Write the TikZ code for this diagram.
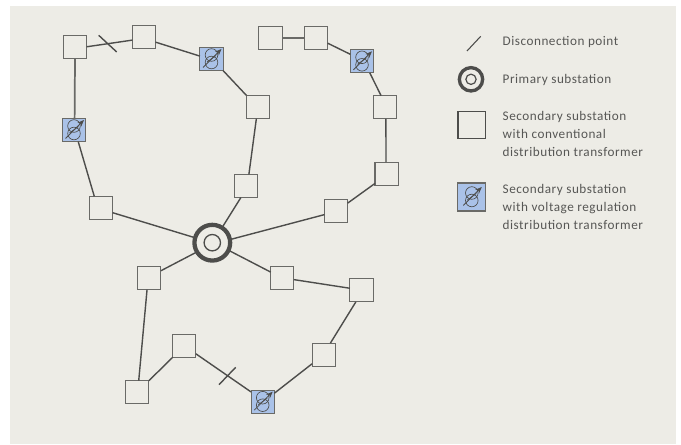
\documentclass[tikz,border=0pt]{standalone}
\usepackage{fontspec}
\usetikzlibrary{arrows.meta}
\setmainfont{Carlito}[LetterSpace=4]
\definecolor{bgc}{HTML}{EDECE6}
\definecolor{linec}{HTML}{4D4D4B}
\definecolor{boxc}{HTML}{6A6A67}
\definecolor{regc}{HTML}{AAC2E8}
\definecolor{textc}{HTML}{575755}
\newcommand\xfmsym[1]{%
  \begin{scope}[shift={(path picture bounding box.center)},scale=#1,draw=linec,line width=0.5pt]
    \draw (0,-4) circle[radius=6.3];
    \draw (0,3.5) circle[radius=6.3];
    \draw (-4.5,3) -- (4.5,-3.5);
    \draw[-{Stealth[length=5pt,width=4pt]},line width=0.6pt] (-8.5,8.5) -- (10,-10);
  \end{scope}}
\newcommand\legrows[1]{\begin{tabular}[t]{@{}l@{}}#1\end{tabular}}
\tikzset{
  x=0.75pt,y=-0.75pt,
  every node/.style={inner sep=0,outer sep=0},
  wire/.style={draw=linec,line width=1.05pt},
  stdbox/.style={rectangle,draw=boxc,line width=0.85pt,fill=bgc,minimum size=17.4pt},
  regbox/.style={rectangle,draw=boxc,line width=0.85pt,fill=regc,minimum size=17.4pt,path picture={\xfmsym{1}}},
  primring/.style={circle,draw=linec,line width=3.2pt,fill=bgc,minimum size=26.8pt},
  primcore/.style={circle,draw=linec,line width=1pt,fill=bgc,minimum size=12.3pt},
  legtext/.style={anchor=base west,text=textc,font=\fontsize{9.9pt}{13.5pt}\selectfont},
}
\begin{document}
\begin{tikzpicture}
\useasboundingbox (0,0) rectangle (681,445);
\fill[white] (0,0) rectangle (681,445);
\fill[bgc] (10,6) rectangle (676,444);
\node[primring] (P) at (212.3,242.7) {};
\node[primcore] (Pc) at (212.3,242.7) {};
\node[stdbox] (n1) at (75,47) {};
\node[stdbox] (n2) at (144,37) {};
\node[regbox] (R1) at (211.5,59) {};
\node[regbox] (R2) at (74,130) {};
\node[stdbox] (c1) at (258,107) {};
\node[stdbox] (c2) at (246,186) {};
\node[stdbox] (c3) at (101,208) {};
\node[stdbox] (a) at (270.5,38) {};
\node[stdbox] (b) at (316,38) {};
\node[regbox] (R3) at (362,61.3) {};
\node[stdbox] (c) at (385.3,107.3) {};
\node[stdbox] (d) at (386.6,173.7) {};
\node[stdbox] (e) at (336,211.3) {};
\node[stdbox] (f) at (149.3,278) {};
\node[stdbox] (g) at (282.3,278) {};
\node[stdbox] (h) at (361.5,290.3) {};
\node[stdbox] (i) at (323.7,354.7) {};
\node[regbox] (R4) at (262.7,401.7) {};
\node[stdbox] (j) at (184.3,345.7) {};
\node[stdbox] (k) at (137.3,392.3) {};
% connectors
\draw[wire] (n1.1) -- (n2.195);
\draw[wire] (n2.-24) -- (R1.166);
\draw[wire] (R1.-45) -- (c1.135);
\draw[wire] (c1.-98) -- (c2.76);
\draw[wire] (c2.-114) -- (P.57);
\draw[wire] (c3.-22.6) -- (P.164);
\draw[wire] (R2.-70) -- (c3.120);
\draw[wire,draw=boxc,line width=1.3pt] (n1.south) -- (R2.87);
\draw[wire,draw=boxc,line width=1.3pt] (a.east) -- (b.west);
\draw[wire] (b.-24) -- (R3.149);
\draw[wire] (R3.-56) -- (c.110);
\draw[wire] (c.-87) -- (d.93);
\draw[wire] (d.220.6) -- (e.35.6);
\draw[wire] (e.196) -- (P.10.5);
\draw[wire] (P.211.5) -- (f.32);
\draw[wire] (P.-25.7) -- (g.153.4);
\draw[wire] (g.-8) -- (h.170);
\draw[wire] (h.-116.6) -- (i.60);
\draw[wire] (i.218.7) -- (R4.36);
\draw[wire] (R4.140) -- (j.-35.6);
\draw[wire] (j.-135) -- (k.45);
\draw[wire] (k.83) -- (f.-101);
% disconnection points
\coordinate (s1a) at (98.7,35.3); \coordinate (s1b) at (116.7,52);
\coordinate (s2a) at (219,384.7); \coordinate (s2b) at (235.7,367.3);
\coordinate (s3a) at (467,51); \coordinate (s3b) at (480.7,36.3);
\draw[wire] (s1a) -- (s1b);
\draw[wire] (s2a) -- (s2b);
\draw[wire,line width=0.8pt] (s3a) -- (s3b);
% legend
\node[circle,draw=linec,line width=2.5pt,fill=bgc,minimum size=17.5pt] (lP) at (471,79.3) {};
\node[circle,draw=linec,line width=0.9pt,fill=bgc,minimum size=7.7pt] (lPc) at (471,79.3) {};
\node[rectangle,draw=linec,line width=0.8pt,fill=bgc,minimum size=20.3pt] (lS) at (471.5,124.7) {};
\node[rectangle,draw=boxc,line width=1pt,fill=regc,minimum size=21pt,path picture={\xfmsym{1.2}}] (lR) at (471.8,197) {};
\node[legtext] (t1) at (502.7,46) {Disconnection point};
\node[legtext] (t2) at (502.7,83.3) {Primary substation};
\node[legtext] (t3) at (502.7,120.3) {\legrows{Secondary substation\\with conventional\\distribution transformer}};
\node[legtext] (t4) at (502.7,193.3) {\legrows{Secondary substation\\with voltage regulation\\distribution transformer}};
\end{tikzpicture}
\end{document}
